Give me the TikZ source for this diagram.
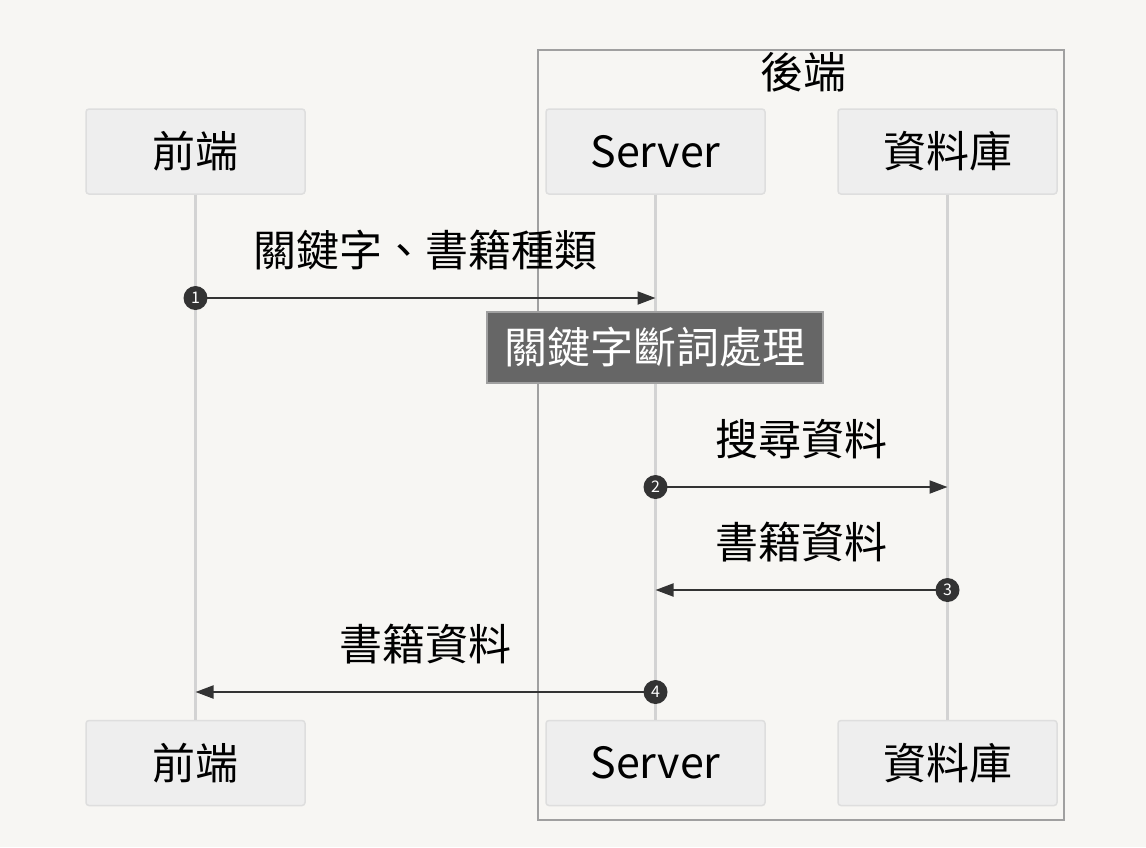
\documentclass[tikz,border=0pt]{standalone}
\usepackage{fontspec}
\usepackage{tikz}
\usetikzlibrary{arrows.meta}
\setmainfont{Noto Sans CJK TC}
\definecolor{bg}{RGB}{247,246,243}
\definecolor{actorfill}{RGB}{238,238,238}
\definecolor{actorline}{RGB}{222,222,222}
\definecolor{lifeline}{RGB}{211,211,211}
\definecolor{msg}{RGB}{51,51,51}
\definecolor{notefill}{RGB}{102,102,102}
\definecolor{groupline}{RGB}{160,160,160}
\newcommand{\bigfont}{\fontsize{43}{48}\selectfont}
\newcommand{\actor}[4]{\node[actorbox] (#1) at (#2,#3) {#4};}
\newcommand{\msgnum}[2]{\node[numdot] at (#1) {#2};}

\begin{document}
\begin{tikzpicture}[x=1pt,y=-1pt,
  actorbox/.style={draw=actorline, fill=actorfill, line width=1.5pt, rounded corners=3pt,
    minimum width=219pt, minimum height=85pt, inner sep=0pt, font=\bigfont},
  lifeline/.style={draw=lifeline, line width=3pt},
  msgline/.style={draw=msg, line width=2pt, -{Triangle[length=18pt,width=13pt]}},
  msglabel/.style={font=\bigfont, text=black},
  numdot/.style={circle, fill=msg, text=white, minimum size=24pt, inner sep=0pt,
    font=\fontsize{16}{16}\selectfont},
  notebox/.style={draw=groupline, fill=notefill, text=white, line width=1.5pt,
    minimum width=336pt, minimum height=71pt, inner sep=0pt, font=\bigfont}]
\fill[bg] (0,0) rectangle (1146,847);
% group
\draw[groupline, line width=2pt] (538,50) rectangle (1064,820);
\node[font=\bigfont] (grp) at (803,72) {後端};
% actors
\actor{fe}{195.5}{151.5}{前端}
\actor{sv}{655.5}{151.5}{Server}
\actor{db}{947.5}{151.5}{資料庫}
\actor{feb}{195.5}{763}{前端}
\actor{svb}{655.5}{763}{Server}
\actor{dbb}{947.5}{763}{資料庫}
\draw[lifeline] (fe.south) -- (feb.north);
\draw[lifeline] (sv.south) -- (svb.north);
\draw[lifeline] (db.south) -- (dbb.north);
% message rows
\foreach \n/\y in {1/298,2/487,3/590,4/692}{
  \coordinate (row\n) at (0,\y);
}
\draw[msgline] (fe |- row1) -- (sv |- row1) node[msglabel, midway, yshift=48pt] {關鍵字、書籍種類};
\draw[msgline] (sv |- row2) -- (db |- row2) node[msglabel, midway, yshift=48pt] {搜尋資料};
\draw[msgline] (db |- row3) -- (sv |- row3) node[msglabel, midway, yshift=48pt] {書籍資料};
\draw[msgline] (sv |- row4) -- (fe |- row4) node[msglabel, midway, yshift=48pt] {書籍資料};
\msgnum{fe |- row1}{1}
\msgnum{sv |- row2}{2}
\msgnum{db |- row3}{3}
\msgnum{sv |- row4}{4}
% note
\node[notebox] (note) at (655,347.5) {關鍵字斷詞處理};
\end{tikzpicture}
\end{document}
